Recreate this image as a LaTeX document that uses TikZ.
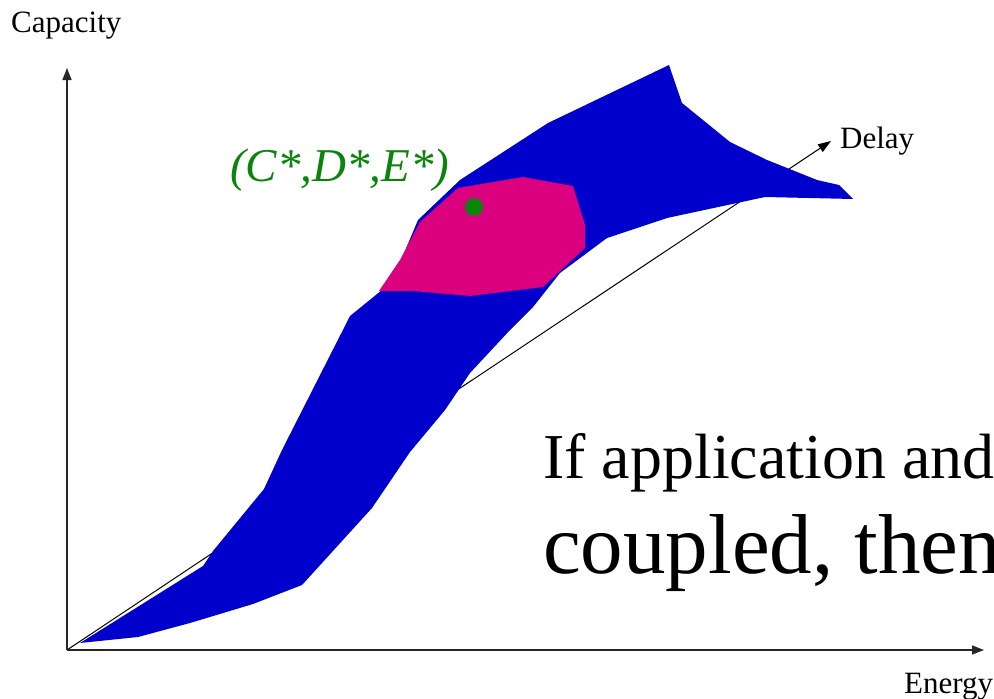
\documentclass[tikz,border=0pt]{standalone}
\usepackage{fontspec}
\setmainfont{Liberation Serif}
\usepackage{xcolor}
\usetikzlibrary{arrows.meta}
\definecolor{regionblue}{HTML}{0000CC}
\definecolor{regionpink}{HTML}{DA007E}
\definecolor{optgreen}{HTML}{0A840A}
\tikzset{
  axis/.style={draw=black!85,line width=1.5pt,-{Triangle[length=12pt,width=9pt]}},
  delay axis/.style={draw=black,line width=1pt,-{Triangle[length=13pt,width=9pt]}},
  feasible/.style={fill=regionblue},
  target/.style={fill=regionpink},
  optimum/.style={circle,fill=optgreen,inner sep=0pt,minimum size=18pt},
  axis label/.style={inner sep=0pt,anchor=base west,font=\fontsize{31}{36}\selectfont},
  point label/.style={inner sep=0pt,anchor=base west,text=optgreen,
    font=\fontsize{47}{54}\selectfont\itshape},
  claim/.style={inner sep=0pt,anchor=base west}
}

\begin{document}
\begin{tikzpicture}[x=1pt,y=-1pt]
  \useasboundingbox (0,0) rectangle (994,699);
  \coordinate (origin) at (67,650);
  \coordinate (ytip) at (67,68);
  \coordinate (xtip) at (984,650);
  \coordinate (dtip) at (831,141);
  \draw[delay axis] (origin) -- (dtip);
  \draw[axis] (origin) -- (ytip);
  \draw[axis] (origin) -- (xtip);
  % operating region
  \fill[feasible] (80,643) -- (203,566) -- (213,551) -- (264,489) -- (282,450)
    -- (350,316) -- (382,290) -- (402,258) -- (418,220) -- (460,180)
    -- (548,123) -- (669,65) -- (682,103) -- (730,142) -- (767,160)
    -- (817,180) -- (839,185) -- (853,199) -- (765,197) -- (667,218)
    -- (607,238) -- (560,273) -- (533,307) -- (510,330) -- (470,373)
    -- (445,410) -- (410,452) -- (372,508) -- (302,585) -- (253,604)
    -- (190,623) -- (138,637) -- cycle;
  \fill[target] (458,188) -- (523,177) -- (573,186) -- (585,225) -- (585,248)
    -- (543,287) -- (470,296) -- (413,291) -- (379,291) -- (400,260)
    -- (420,222) -- cycle;
  \node[optimum] (opt) at (474,207) {};
  \node[point label] (optlabel) at (230,181) {(C*,D*,E*)};
  % axis names
  \node[axis label] (capacity) at (11,32) {Capacity};
  \node[axis label] (delay) at (840,148) {Delay};
  \node[axis label] (energy) at (904,693) {Energy};
  \node[claim,font=\fontsize{64}{70}\selectfont] (claimA) at (543,478) {If application and};
  \node[claim,font=\fontsize{85}{90}\selectfont] (claimB) at (543,573) {coupled, then};
\end{tikzpicture}
\end{document}
